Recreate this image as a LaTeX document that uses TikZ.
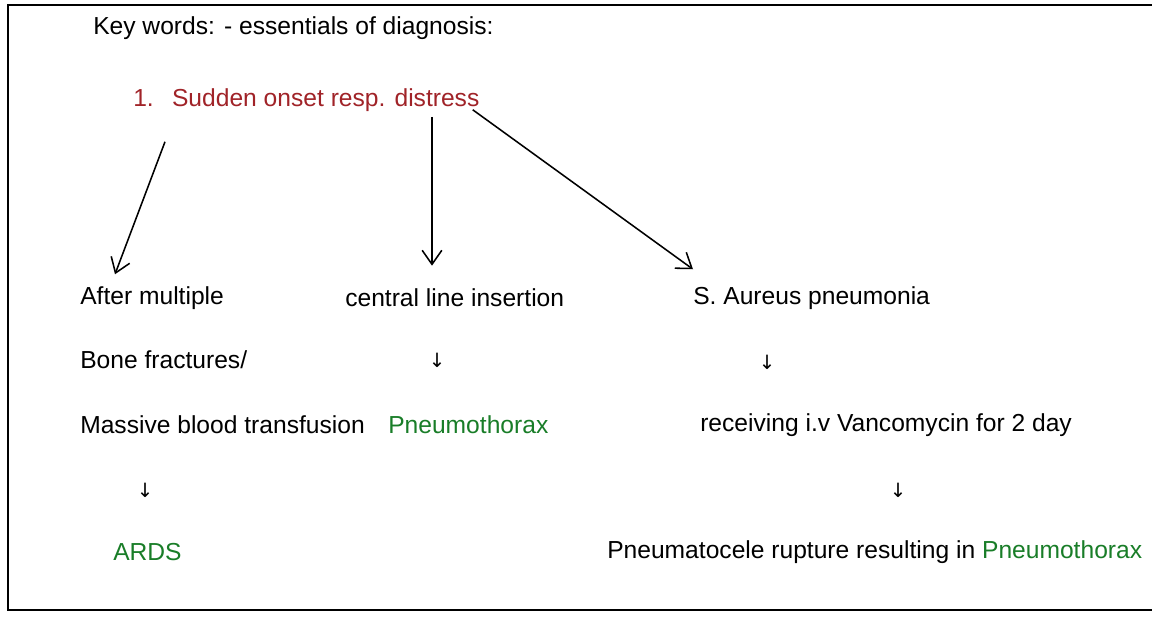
\documentclass[tikz,border=0pt]{standalone}
\usepackage{fontspec}
\setmainfont{Liberation Sans}
\newfontfamily\arrowfont{DejaVu Sans}
\usepackage{xcolor}
\usetikzlibrary{positioning,arrows.meta,calc}
\definecolor{dxred}{RGB}{160,35,40}
\definecolor{dxgreen}{RGB}{25,125,40}

\begin{document}
\begin{tikzpicture}[x=0.025cm,y=-0.025cm,
    txt/.style={anchor=west,inner sep=0pt,font=\fontsize{17.5}{21}\selectfont},
    darr/.style={inner sep=0pt,font=\arrowfont\fontsize{14}{16}\selectfont},
    bigarr/.style={line width=1.1pt,-{Straight Barb[length=10pt,width=14pt,line width=1.1pt]}}]
    \useasboundingbox (0,0) rectangle (1152,619);

    % Frame
    \draw[line width=1pt] (1152,5) -- (8,5) -- (8,610) -- (1152,610);

    % Heading
    \node[txt] (key) at (93,28) {Key words: - essentials of diagnosis:};
    \node[txt,text=dxred] (sudden) at (133,100) {1.\hspace{13pt}Sudden onset resp. distress};

    % Left branch
    \node[txt] (after) at (80,298) {After multiple};
    \node[txt] (bone) at (80,360) {Bone fractures/};
    \node[txt] (massive) at (80,425) {Massive blood transfusion};
    \node[darr] (d3) at (145,490) {↓};
    \node[txt,text=dxgreen] (ards) at (113,552) {ARDS};

    % Middle branch
    \node[txt] (central) at (345,298) {central line insertion};
    \node[darr] (d1) at (437,360) {↓};
    \node[txt,text=dxgreen] (pneumo) at (388,425) {Pneumothorax};

    % Right branch
    \node[txt] (aureus) at (693,298) {S. Aureus pneumonia};
    \node[darr] (d2) at (767,362) {↓};
    \node[txt] (vanco) at (700,425) {receiving i.v Vancomycin for 2 day};
    \node[darr] (d4) at (898,490) {↓};
    \node[txt] (rupture) at (607,552) {Pneumatocele rupture resulting in \textcolor{dxgreen}{Pneumothorax}};

    % Arrows
    \coordinate (s1) at ($(sudden.south west)+(32,30)$);
    \coordinate (s2) at ($(sudden.south west)+(299,5)$);
    \coordinate (s3) at ($(sudden.south east)+(-7,-2)$);
    \draw[bigarr] (s1) -- ($(after.north west)+(35,-12)$);
    \draw[bigarr] (s2) -- ($(central.north west)+(87,-23)$);
    \draw[bigarr] (s3) -- ($(aureus.north west)+(0,-17)$);
\end{tikzpicture}
\end{document}
